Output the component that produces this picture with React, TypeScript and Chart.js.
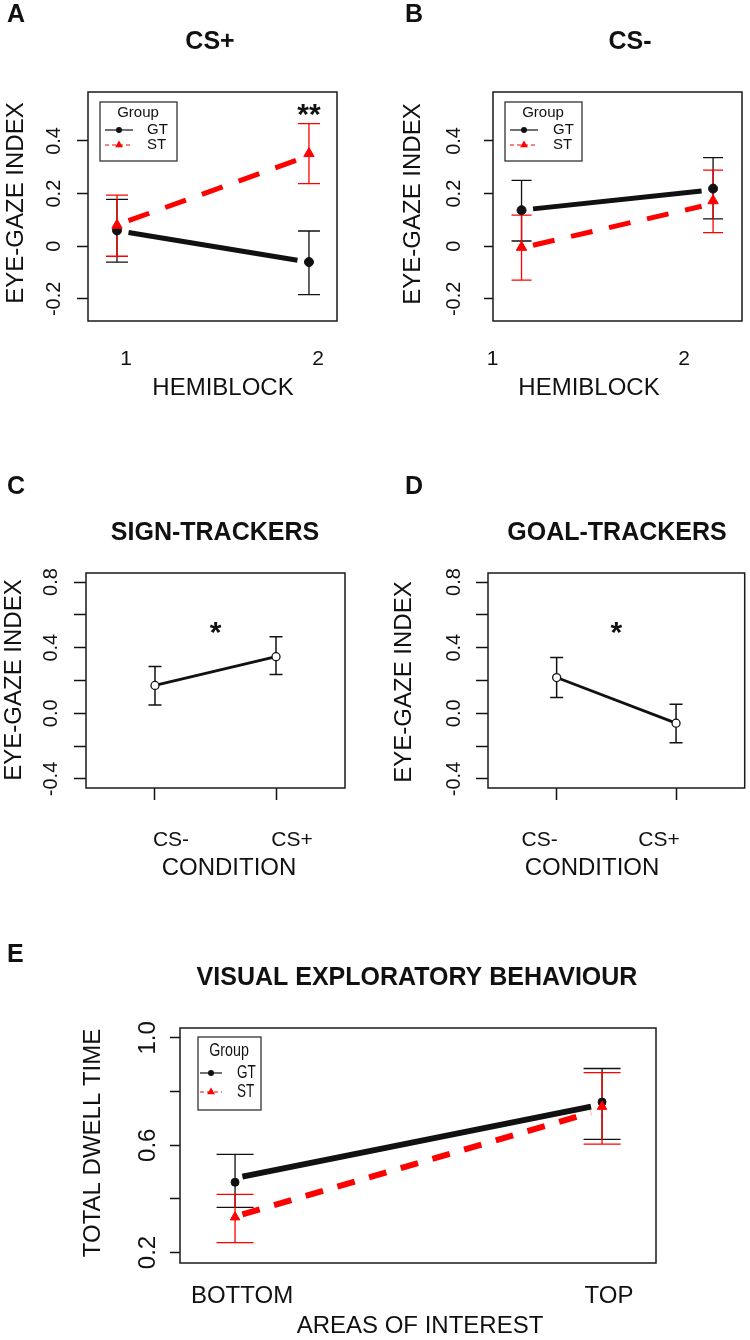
import { useEffect, useRef } from "react";
import { Chart, registerables } from "chart.js";

Chart.register(...registerables);

const SANS = '"Liberation Sans", Arial, Helvetica, sans-serif';
const RED = "#ff0000";
const INK = "#111111";

// ---- categories / axis ticks ----
const hemiblocks = ["1", "2"];
const conditions = ["CS-", "CS+"];
const areas = ["BOTTOM", "TOP"];
const catPos = [1, 2];
const hemiFitX = [1.06, 1.94];
const areaFitX = [1.02, 1.97];

const gazeTicks = [-0.2, 0, 0.2, 0.4];
const gazeTickLabels = ["-0.2", "0", "0.2", "0.4"];
const condTicks = [-0.4, -0.2, 0, 0.2, 0.4, 0.6, 0.8];
const condTickLabels = ["-0.4", "", "0.0", "", "0.4", "", "0.8"];
const dwellTicks = [0.2, 0.4, 0.6, 0.8, 1.0];
const dwellTickLabels = ["0.2", "", "0.6", "", "1.0"];

// ---- A: CS+ ----
const aGt = [0.06, -0.06];
const aGtLo = [-0.06, -0.184];
const aGtHi = [0.178, 0.058];
const aSt = [0.08, 0.352];
const aStLo = [-0.038, 0.238];
const aStHi = [0.194, 0.466];
const aGtFit = [0.052, -0.053];
const aStFit = [0.097, 0.328];

// ---- B: CS- ----
const bGt = [0.137, 0.219];
const bGtLo = [0.02, 0.104];
const bGtHi = [0.25, 0.337];
const bSt = [-0.004, 0.173];
const bStLo = [-0.129, 0.052];
const bStHi = [0.118, 0.289];
const bGtFit = [0.142, 0.21];
const bStFit = [0.004, 0.152];

// ---- C: sign-trackers ----
const cMean = [0.17, 0.345];
const cLo = [0.05, 0.236];
const cHi = [0.285, 0.467];

// ---- D: goal-trackers ----
const dMean = [0.218, -0.06];
const dLo = [0.097, -0.18];
const dHi = [0.34, 0.055];

// ---- E: visual exploratory behaviour ----
const eGt = [0.462, 0.761];
const eGtLo = [0.368, 0.622];
const eGtHi = [0.566, 0.886];
const eSt = [0.332, 0.744];
const eStLo = [0.237, 0.604];
const eStHi = [0.417, 0.871];
const eGtFit = [0.483, 0.744];
const eStFit = [0.342, 0.722];

type Marker = "circle" | "triangle" | "open";
type Series = { name: string; mean: number[]; lo: number[]; hi: number[]; color: string; marker: Marker; radius: number };
type Fit = { x: number[]; y: number[]; color: string; dash: number[]; width: number };
type Txt = { s: string; x: number; y: number; size: number; bold?: boolean; rot?: boolean; align?: CanvasTextAlign };
type Legend = {
  l: number; t: number; r: number; b: number;
  titleX: number; titleY: number; lineX: [number, number]; textX: number; rowsY: number[];
  titleSize: number; size: number; squeeze: number;
};
type Panel = {
  frame: [number, number, number, number];
  box: [number, number, number, number];
  xRange: [number, number];
  yRange: [number, number];
  xLabels: string[]; xSize: number; xPad: number; xOffset: number; xTickLen: number;
  yTicks: number[]; yLabels: string[]; ySize: number; yPad: number; yTickLen: number;
  series: Series[]; fits: Fit[]; capHalf: number; barWidth: number;
  stars: { x: number; y: number; s: string }[];
  texts: Txt[];
  legend?: Legend;
};

const gt = (mean: number[], lo: number[], hi: number[], r: number): Series =>
  ({ name: "GT", mean, lo, hi, color: INK, marker: "circle", radius: r });
const st = (mean: number[], lo: number[], hi: number[], r: number): Series =>
  ({ name: "ST", mean, lo, hi, color: RED, marker: "triangle", radius: r });

const panels: Panel[] = [
  {
    frame: [0, 0, 375, 410], box: [88, 92, 337, 321],
    xRange: [0.849, 2.146], yRange: [-0.284, 0.586],
    xLabels: hemiblocks, xSize: 21, xPad: 26, xOffset: 9, xTickLen: 0,
    yTicks: gazeTicks, yLabels: gazeTickLabels, ySize: 20, yPad: 5, yTickLen: 11,
    series: [gt(aGt, aGtLo, aGtHi, 4.5), st(aSt, aStLo, aStHi, 6)],
    fits: [
      { x: hemiFitX, y: aGtFit, color: INK, dash: [], width: 5 },
      { x: hemiFitX, y: aStFit, color: RED, dash: [22, 17], width: 5 },
    ],
    capHalf: 11, barWidth: 1.3,
    stars: [{ x: 2, y: 0.53, s: "**" }],
    texts: [
      { s: "A", x: 7, y: 15, size: 25, bold: true, align: "left" },
      { s: "CS+", x: 210, y: 42, size: 25, bold: true },
      { s: "EYE-GAZE INDEX", x: 16, y: 203, size: 24, rot: true },
      { s: "HEMIBLOCK", x: 223, y: 388, size: 24 },
    ],
    legend: { l: 100, t: 102, r: 177, b: 161, titleX: 138, titleY: 113, lineX: [105, 133], textX: 147, rowsY: [130, 145], titleSize: 15, size: 15, squeeze: 1 },
  },
  {
    frame: [375, 0, 375, 410], box: [493, 92, 742, 321],
    xRange: [0.851, 2.151], yRange: [-0.284, 0.586],
    xLabels: hemiblocks, xSize: 21, xPad: 26, xOffset: -29, xTickLen: 0,
    yTicks: gazeTicks, yLabels: gazeTickLabels, ySize: 20, yPad: 12, yTickLen: 9,
    series: [gt(bGt, bGtLo, bGtHi, 4.5), st(bSt, bStLo, bStHi, 6)],
    fits: [
      { x: hemiFitX, y: bGtFit, color: INK, dash: [], width: 5 },
      { x: hemiFitX, y: bStFit, color: RED, dash: [22, 17], width: 5 },
    ],
    capHalf: 10, barWidth: 1.3,
    stars: [],
    texts: [
      { s: "B", x: 405, y: 15, size: 25, bold: true, align: "left" },
      { s: "CS-", x: 630, y: 42, size: 25, bold: true },
      { s: "EYE-GAZE INDEX", x: 413, y: 204, size: 24, rot: true },
      { s: "HEMIBLOCK", x: 589, y: 388, size: 24 },
    ],
    legend: { l: 505, t: 102, r: 582, b: 161, titleX: 543, titleY: 113, lineX: [510, 538], textX: 553, rowsY: [130, 145], titleSize: 15, size: 15, squeeze: 1 },
  },
  {
    frame: [0, 460, 375, 430], box: [86, 573, 345, 788],
    xRange: [0.43, 2.57], yRange: [-0.455, 0.855],
    xLabels: conditions, xSize: 21, xPad: 28, xOffset: 16, xTickLen: 12,
    yTicks: condTicks, yLabels: condTickLabels, ySize: 20, yPad: 5, yTickLen: 12,
    series: [{ name: "", mean: cMean, lo: cLo, hi: cHi, color: INK, marker: "open", radius: 4 }],
    fits: [{ x: catPos, y: cMean, color: INK, dash: [], width: 2.8 }],
    capHalf: 6.5, barWidth: 1.5,
    stars: [{ x: 1.5, y: 0.54, s: "*" }],
    texts: [
      { s: "C", x: 7, y: 487, size: 25, bold: true, align: "left" },
      { s: "SIGN-TRACKERS", x: 215, y: 533, size: 25, bold: true },
      { s: "EYE-GAZE INDEX", x: 14, y: 680, size: 24, rot: true },
      { s: "CONDITION", x: 229, y: 868, size: 24 },
    ],
  },
  {
    frame: [375, 460, 375, 430], box: [488, 573, 746, 788],
    xRange: [0.425, 2.575], yRange: [-0.455, 0.855],
    xLabels: conditions, xSize: 21, xPad: 28, xOffset: -17, xTickLen: 12,
    yTicks: condTicks, yLabels: condTickLabels, ySize: 20, yPad: 4, yTickLen: 12,
    series: [{ name: "", mean: dMean, lo: dLo, hi: dHi, color: INK, marker: "open", radius: 4 }],
    fits: [{ x: catPos, y: dMean, color: INK, dash: [], width: 2.8 }],
    capHalf: 6.5, barWidth: 1.5,
    stars: [{ x: 1.5, y: 0.54, s: "*" }],
    texts: [
      { s: "D", x: 405, y: 487, size: 25, bold: true, align: "left" },
      { s: "GOAL-TRACKERS", x: 617, y: 533, size: 25, bold: true },
      { s: "EYE-GAZE INDEX", x: 404, y: 682, size: 24, rot: true },
      { s: "CONDITION", x: 592, y: 868, size: 24 },
    ],
  },
  {
    frame: [0, 940, 750, 400], box: [180, 1028, 656, 1263],
    xRange: [0.85, 2.147], yRange: [0.161, 1.037],
    xLabels: areas, xSize: 24, xPad: 19, xOffset: 7, xTickLen: 0,
    yTicks: dwellTicks, yLabels: dwellTickLabels, ySize: 24, yPad: 5, yTickLen: 10,
    series: [gt(eGt, eGtLo, eGtHi, 4), st(eSt, eStLo, eStHi, 5.5)],
    fits: [
      { x: areaFitX, y: eGtFit, color: INK, dash: [], width: 6 },
      { x: areaFitX, y: eStFit, color: RED, dash: [18, 15], width: 6 },
    ],
    capHalf: 18.5, barWidth: 1.3,
    stars: [],
    texts: [
      { s: "E", x: 7, y: 955, size: 25, bold: true, align: "left" },
      { s: "VISUAL EXPLORATORY BEHAVIOUR", x: 417, y: 978, size: 25, bold: true },
      { s: "TOTAL DWELL TIME", x: 93, y: 1143, size: 24, rot: true },
      { s: "AREAS OF INTEREST", x: 420, y: 1326, size: 24 },
    ],
    legend: { l: 198, t: 1037, r: 261, b: 1110, titleX: 229, titleY: 1051, lineX: [200, 222], textX: 237, rowsY: [1073, 1092], titleSize: 19, size: 18, squeeze: 0.75 },
  },
];

function drawText(ctx: CanvasRenderingContext2D, t: Txt, ox: number, oy: number) {
  ctx.save();
  ctx.font = `${t.bold ? "bold " : ""}${t.size}px ${SANS}`;
  ctx.fillStyle = INK;
  ctx.textAlign = t.align ?? "center";
  ctx.textBaseline = "middle";
  ctx.translate(t.x - ox, t.y - oy);
  if (t.rot) ctx.rotate(-Math.PI / 2);
  ctx.fillText(t.s, 0, 0);
  ctx.restore();
}

function triangle(ctx: CanvasRenderingContext2D, x: number, y: number, r: number) {
  ctx.beginPath();
  ctx.moveTo(x, y - r);
  ctx.lineTo(x + r * 0.866, y + r / 2);
  ctx.lineTo(x - r * 0.866, y + r / 2);
  ctx.closePath();
  ctx.fill();
}

function drawLegend(ctx: CanvasRenderingContext2D, p: Panel, ox: number, oy: number) {
  const g = p.legend;
  if (!g) return;
  ctx.save();
  ctx.translate(-ox, -oy);
  ctx.fillStyle = "#fff";
  ctx.fillRect(g.l, g.t, g.r - g.l, g.b - g.t);
  ctx.strokeStyle = "#333";
  ctx.lineWidth = 1.3;
  ctx.strokeRect(g.l, g.t, g.r - g.l, g.b - g.t);
  const label = (s: string, x: number, y: number, size: number, align: CanvasTextAlign) => {
    ctx.save();
    ctx.font = `${size}px ${SANS}`;
    ctx.fillStyle = INK;
    ctx.textAlign = align;
    ctx.textBaseline = "middle";
    ctx.translate(x, y);
    ctx.scale(g.squeeze, 1);
    ctx.fillText(s, 0, 0);
    ctx.restore();
  };
  label("Group", g.titleX, g.titleY, g.titleSize, "center");
  const mx = (g.lineX[0] + g.lineX[1]) / 2;
  p.series.forEach((s, i) => {
    const y = g.rowsY[i];
    ctx.strokeStyle = s.color;
    ctx.fillStyle = s.color;
    ctx.lineWidth = 1.2;
    ctx.setLineDash(s.marker === "triangle" ? [4, 3] : []);
    ctx.beginPath();
    ctx.moveTo(g.lineX[0], y);
    ctx.lineTo(g.lineX[1], y);
    ctx.stroke();
    ctx.setLineDash([]);
    if (s.marker === "triangle") triangle(ctx, mx, y, 4.5);
    else {
      ctx.beginPath();
      ctx.arc(mx, y, 3, 0, Math.PI * 2);
      ctx.fill();
    }
    label(s.name, g.textX, y, g.size, "left");
  });
  ctx.restore();
}

function makeChart(canvas: HTMLCanvasElement, p: Panel) {
  const [fx, fy, fw, fh] = p.frame;
  const [bl, bt, br, bb] = p.box;

  const datasets: any[] = [];
  p.series.forEach((s, i) => {
    datasets.push({
      data: s.mean.map((y, j) => ({ x: catPos[j], y })),
      showLine: false,
      pointStyle: s.marker === "triangle" ? "triangle" : "circle",
      pointRadius: s.radius,
      pointBackgroundColor: s.marker === "open" ? "#fff" : s.color,
      pointBorderColor: s.color,
      pointBorderWidth: s.marker === "open" ? 1.3 : 1,
      order: p.series.length - 1 - i,
    });
  });
  p.fits.forEach((f, i) => {
    datasets.push({
      data: f.x.map((x, j) => ({ x, y: f.y[j] })),
      showLine: true,
      borderColor: f.color,
      borderWidth: f.width,
      borderDash: f.dash,
      borderCapStyle: "butt",
      pointRadius: 0,
      order: 10 + p.fits.length - i,
    });
  });

  const decor = {
    id: "decor",
    beforeDatasetsDraw(chart: any) {
      const ctx: CanvasRenderingContext2D = chart.ctx;
      const xs = chart.scales.x;
      const ys = chart.scales.y;
      ctx.save();
      p.series.forEach((s) => {
        ctx.strokeStyle = s.color;
        ctx.lineWidth = p.barWidth;
        s.lo.forEach((lo, j) => {
          const x = xs.getPixelForValue(catPos[j]);
          const y1 = ys.getPixelForValue(lo);
          const y2 = ys.getPixelForValue(s.hi[j]);
          ctx.beginPath();
          ctx.moveTo(x, y1);
          ctx.lineTo(x, y2);
          ctx.moveTo(x - p.capHalf, y1);
          ctx.lineTo(x + p.capHalf, y1);
          ctx.moveTo(x - p.capHalf, y2);
          ctx.lineTo(x + p.capHalf, y2);
          ctx.stroke();
        });
      });
      ctx.restore();
    },
    afterDraw(chart: any) {
      const ctx: CanvasRenderingContext2D = chart.ctx;
      const a = chart.chartArea;
      const xs = chart.scales.x;
      const ys = chart.scales.y;
      ctx.save();
      ctx.strokeStyle = "#1a1a1a";
      ctx.lineWidth = 1.5;
      ctx.strokeRect(a.left, a.top, a.right - a.left, a.bottom - a.top);
      ctx.restore();
      p.stars.forEach((st) => {
        ctx.save();
        ctx.font = `bold 30px ${SANS}`;
        ctx.fillStyle = INK;
        ctx.textAlign = "center";
        ctx.textBaseline = "alphabetic";
        ctx.fillText(st.s, xs.getPixelForValue(st.x), ys.getPixelForValue(st.y) + 17);
        ctx.restore();
      });
      p.texts.forEach((t) => drawText(ctx, t, fx, fy));
      drawLegend(ctx, p, fx, fy);
    },
  };

  return new Chart(canvas, {
    type: "scatter",
    data: { datasets },
    plugins: [decor],
    options: {
      responsive: false,
      maintainAspectRatio: false,
      animation: false,
      events: [],
      layout: { padding: { left: 0, top: bt - fy, right: fx + fw - br, bottom: 0 } },
      plugins: { legend: { display: false }, tooltip: { enabled: false } },
      scales: {
        x: {
          type: "linear",
          min: p.xRange[0],
          max: p.xRange[1],
          afterBuildTicks: (s: any) => {
            s.ticks = catPos.map((v) => ({ value: v }));
          },
          afterFit: (s: any) => {
            s.height = fy + fh - bb;
          },
          ticks: {
            callback: (_v: any, i: number) => p.xLabels[i],
            font: { family: SANS, size: p.xSize },
            color: INK,
            padding: p.xPad,
            labelOffset: p.xOffset,
            minRotation: 0,
            maxRotation: 0,
            autoSkip: false,
          },
          grid: {
            display: p.xTickLen > 0,
            drawOnChartArea: false,
            drawTicks: p.xTickLen > 0,
            tickLength: p.xTickLen,
            tickColor: INK,
            tickWidth: 1.5,
          },
          border: { display: false },
        },
        y: {
          type: "linear",
          min: p.yRange[0],
          max: p.yRange[1],
          afterBuildTicks: (s: any) => {
            s.ticks = p.yTicks.map((v) => ({ value: v }));
          },
          afterFit: (s: any) => {
            s.width = bl - fx;
          },
          ticks: {
            callback: (_v: any, i: number) => p.yLabels[i],
            font: { family: SANS, size: p.ySize },
            color: INK,
            padding: p.yPad,
            minRotation: 90,
            maxRotation: 90,
            crossAlign: "center",
            autoSkip: false,
          },
          grid: {
            drawOnChartArea: false,
            drawTicks: true,
            tickLength: p.yTickLen,
            tickColor: INK,
            tickWidth: 1.5,
          },
          border: { display: false },
        },
      },
    } as any,
  });
}

function PanelChart({ p }: { p: Panel }) {
  const ref = useRef<HTMLCanvasElement>(null);
  useEffect(() => {
    if (!ref.current) return;
    const chart = makeChart(ref.current, p);
    return () => chart.destroy();
  }, [p]);
  const [x, y, w, h] = p.frame;
  return (
    <canvas
      ref={ref}
      width={w}
      height={h}
      style={{ position: "absolute", left: x, top: y, width: w, height: h }}
    />
  );
}

export default function App() {
  useEffect(() => {
    document.body.style.margin = "0";
  }, []);
  return (
    <div style={{ position: "relative", width: 750, height: 1340, background: "#fff", overflow: "hidden" }}>
      {panels.map((p, i) => (
        <PanelChart key={i} p={p} />
      ))}
    </div>
  );
}
